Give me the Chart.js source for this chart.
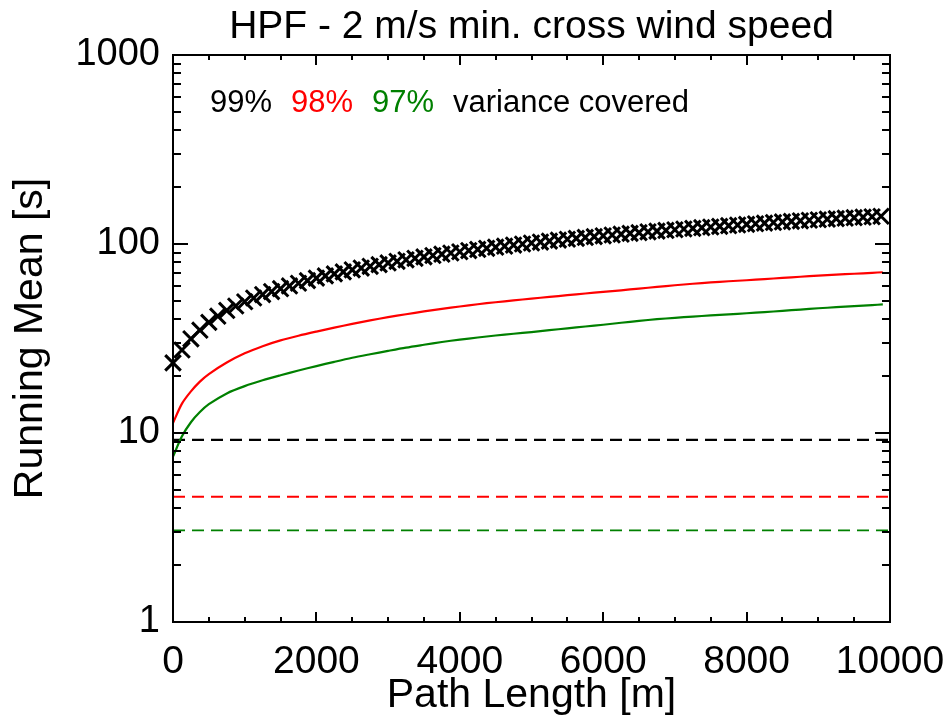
<!DOCTYPE html>
<html>
<head>
<meta charset="utf-8">
<script src="https://cdn.jsdelivr.net/npm/chart.js@4/dist/chart.umd.min.js"></script>
<style>
html,body{margin:0;padding:0;background:#fff;}
#c{display:block;}
</style>
</head>
<body>
<canvas id="c" width="948" height="722"></canvas>
<script>
// ---------- data ----------
const titleText = 'HPF - 2 m/s min. cross wind speed';
const xTitle = 'Path Length [m]';
const yTitle = 'Running Mean [s]';
const xTickLabels = [0, 2000, 4000, 6000, 8000, 10000];
const yTickLabels = [1, 10, 100, 1000];
const legendParts = ['99%', '98%', '97%', 'variance covered'];

// 99% series (markers), path length in m
const blackX = [0,125,250,375,500,625,750,875,1000,1125,1250,1375,1500,1625,1750,1875,2000,2125,2250,2375,2500,2625,2750,2875,3000,3125,3250,3375,3500,3625,3750,3875,4000,4125,4250,4375,4500,4625,4750,4875,5000,5125,5250,5375,5500,5625,5750,5875,6000,6125,6250,6375,6500,6625,6750,6875,7000,7125,7250,7375,7500,7625,7750,7875,8000,8125,8250,8375,8500,8625,8750,8875,9000,9125,9250,9375,9500,9625,9750,9875];
const blackY = [23.5,27.5,31.5,35.0,38.5,41.5,44.5,47.0,49.5,51.8,54.0,56.0,58.0,60.0,62.0,64.0,66.0,67.8,69.5,71.2,73.0,74.6,76.2,77.8,79.4,81.0,82.5,84.0,85.5,86.9,88.3,89.6,91.0,92.3,93.6,94.9,96.2,97.4,98.7,100.0,101.2,102.4,103.6,104.8,106.0,107.1,108.3,109.4,110.5,111.6,112.7,113.8,114.9,116.0,117.0,118.0,119.0,120.0,121.0,122.0,123.0,124.0,125.0,126.0,127.0,128.0,129.0,129.9,130.8,131.7,132.6,133.5,134.4,135.3,136.2,137.0,137.8,138.6,139.4,140.2];

// 98% and 97% series (lines)
const lineX = [0,125,250,375,500,750,1000,1250,1500,1750,2000,2250,2500,2750,3000,3250,3500,3750,4000,4250,4500,4750,5000,5250,5500,5750,6000,6250,6500,6750,7000,7250,7500,7750,8000,8250,8500,8750,9000,9250,9500,9750,9900];
const redY = [11.3,14.3,16.6,18.7,20.5,23.6,26.4,28.8,30.9,32.7,34.4,36.1,37.8,39.4,41.0,42.5,44.0,45.4,46.7,48.0,49.2,50.3,51.4,52.5,53.6,54.7,55.8,56.9,58.1,59.3,60.5,61.6,62.6,63.5,64.3,65.2,66.2,67.1,68.0,68.8,69.6,70.4,70.9];
const greenY = [7.5,9.6,11.4,12.9,14.2,16.2,17.7,19.0,20.2,21.4,22.6,23.8,25.0,26.1,27.2,28.3,29.3,30.3,31.2,32.0,32.8,33.5,34.2,35.0,35.8,36.6,37.4,38.3,39.2,40.0,40.7,41.3,41.9,42.4,43.0,43.6,44.3,45.0,45.7,46.3,46.9,47.5,47.9];

// threshold levels (dashed), black / red / green
const thresholdLevels = [9.2, 4.6, 3.05];
const thresholdRange = [0, 10000];

// ---------- styles ----------
const FONT = "'Liberation Sans', Arial, Helvetica, sans-serif";
const COLORS = ['#000000', '#ff0000', '#008000'];

function pts(xs, ys){ return xs.map((x,i)=>({x:x, y:ys[i]})); }
function hline(v){ return thresholdRange.map(x=>({x:x, y:v})); }

const framePlugin = {
  id: 'idlFrame',
  afterDraw(chart){
    const ctx = chart.ctx, a = chart.chartArea;
    const xs = chart.scales.x, ys = chart.scales.y;
    ctx.save();
    ctx.strokeStyle = '#000';
    ctx.lineWidth = 2;
    ctx.strokeRect(a.left, a.top, a.right - a.left, a.bottom - a.top);
    ctx.beginPath();
    // x ticks (major + minor), bottom and top, inward
    for (let v = xs.min; v <= xs.max + 1e-6; v += 500) {
      const px = Math.round(xs.getPixelForValue(v));
      const len = xTickLabels.includes(v) ? 10 : 5;
      ctx.moveTo(px, a.bottom); ctx.lineTo(px, a.bottom - len);
      ctx.moveTo(px, a.top); ctx.lineTo(px, a.top + len);
    }
    // y ticks (log), left and right, inward
    for (let d = 0; d < yTickLabels.length; d++) {
      const base = yTickLabels[d];
      for (let m = 1; m <= 9; m++) {
        const v = base * m;
        if (v > ys.max + 1e-9) break;
        const py = Math.round(ys.getPixelForValue(v));
        const len = m === 1 ? 15 : 8;
        ctx.moveTo(a.left, py); ctx.lineTo(a.left + len, py);
        ctx.moveTo(a.right, py); ctx.lineTo(a.right - len, py);
      }
    }
    ctx.stroke();
    // title
    ctx.fillStyle = '#000';
    ctx.font = '39px ' + FONT;
    ctx.textAlign = 'center';
    ctx.textBaseline = 'alphabetic';
    ctx.fillText(titleText, (a.left + a.right) / 2, 38);
    // annotation (coloured legend text)
    ctx.font = '31px ' + FONT;
    ctx.textAlign = 'left';
    const starts = [210, 291, 372, 453];
    const cols = ['#000000', '#ff0000', '#008000', '#000000'];
    legendParts.forEach((t, i) => {
      ctx.fillStyle = cols[i];
      ctx.fillText(t, starts[i], 112);
    });
    ctx.restore();
  }
};

new Chart(document.getElementById('c'), {
  type: 'line',
  data: {
    datasets: [
      { label: '99%', data: pts(blackX, blackY), showLine: false, pointStyle: 'crossRot',
        pointRadius: 11, pointBorderWidth: 3, borderColor: COLORS[0], backgroundColor: COLORS[0], clip: 12 },
      { label: '98%', data: pts(lineX, redY), borderColor: COLORS[1], borderWidth: 2.2, pointRadius: 0, tension: 0.3 },
      { label: '97%', data: pts(lineX, greenY), borderColor: COLORS[2], borderWidth: 2.2, pointRadius: 0, tension: 0.3 },
      { label: '99% level', data: hline(thresholdLevels[0]), borderColor: COLORS[0], borderWidth: 2.2, borderDash: [12, 7], pointRadius: 0 },
      { label: '98% level', data: hline(thresholdLevels[1]), borderColor: COLORS[1], borderWidth: 2.2, borderDash: [12, 7], pointRadius: 0 },
      { label: '97% level', data: hline(thresholdLevels[2]), borderColor: COLORS[2], borderWidth: 1.7, borderDash: [12, 7], pointRadius: 0 }
    ]
  },
  options: {
    responsive: false,
    animation: false,
    devicePixelRatio: 1,
    layout: { padding: { top: 55, right: 58, left: 0, bottom: 0 } },
    plugins: { legend: { display: false }, title: { display: false }, tooltip: { enabled: false } },
    scales: {
      x: {
        type: 'linear', position: 'bottom', min: 0, max: 10000,
        grid: { display: false, drawTicks: false }, border: { display: false },
        afterBuildTicks: s => { s.ticks = xTickLabels.map(v => ({ value: v })); },
        ticks: { color: '#000', font: { family: FONT, size: 39, lineHeight: 1.2 }, padding: 17, maxRotation: 0, autoSkip: false,
                 callback: v => String(v) },
        title: { display: true, text: xTitle, color: '#000', font: { family: FONT, size: 41, lineHeight: 1.2 }, padding: { top: 2, bottom: 2 } },
        afterFit: s => { s.height = 100; s.paddingLeft = 0; s.paddingRight = 0; }
      },
      y: {
        type: 'logarithmic', position: 'left', min: 1, max: 1000,
        grid: { display: false, drawTicks: false }, border: { display: false },
        afterBuildTicks: s => { s.ticks = yTickLabels.map(v => ({ value: v })); },
        ticks: { color: '#000', font: { family: FONT, size: 38, lineHeight: 1.2 }, padding: 13, autoSkip: false,
                 callback: v => String(v) },
        title: { display: true, text: yTitle, color: '#000', font: { family: FONT, size: 41, lineHeight: 1.2 }, padding: { top: 6, bottom: 0 } },
        afterFit: s => { s.width = 173; s.paddingTop = 0; s.paddingBottom = 0; }
      }
    }
  },
  plugins: [framePlugin]
});
</script>
</body>
</html>
